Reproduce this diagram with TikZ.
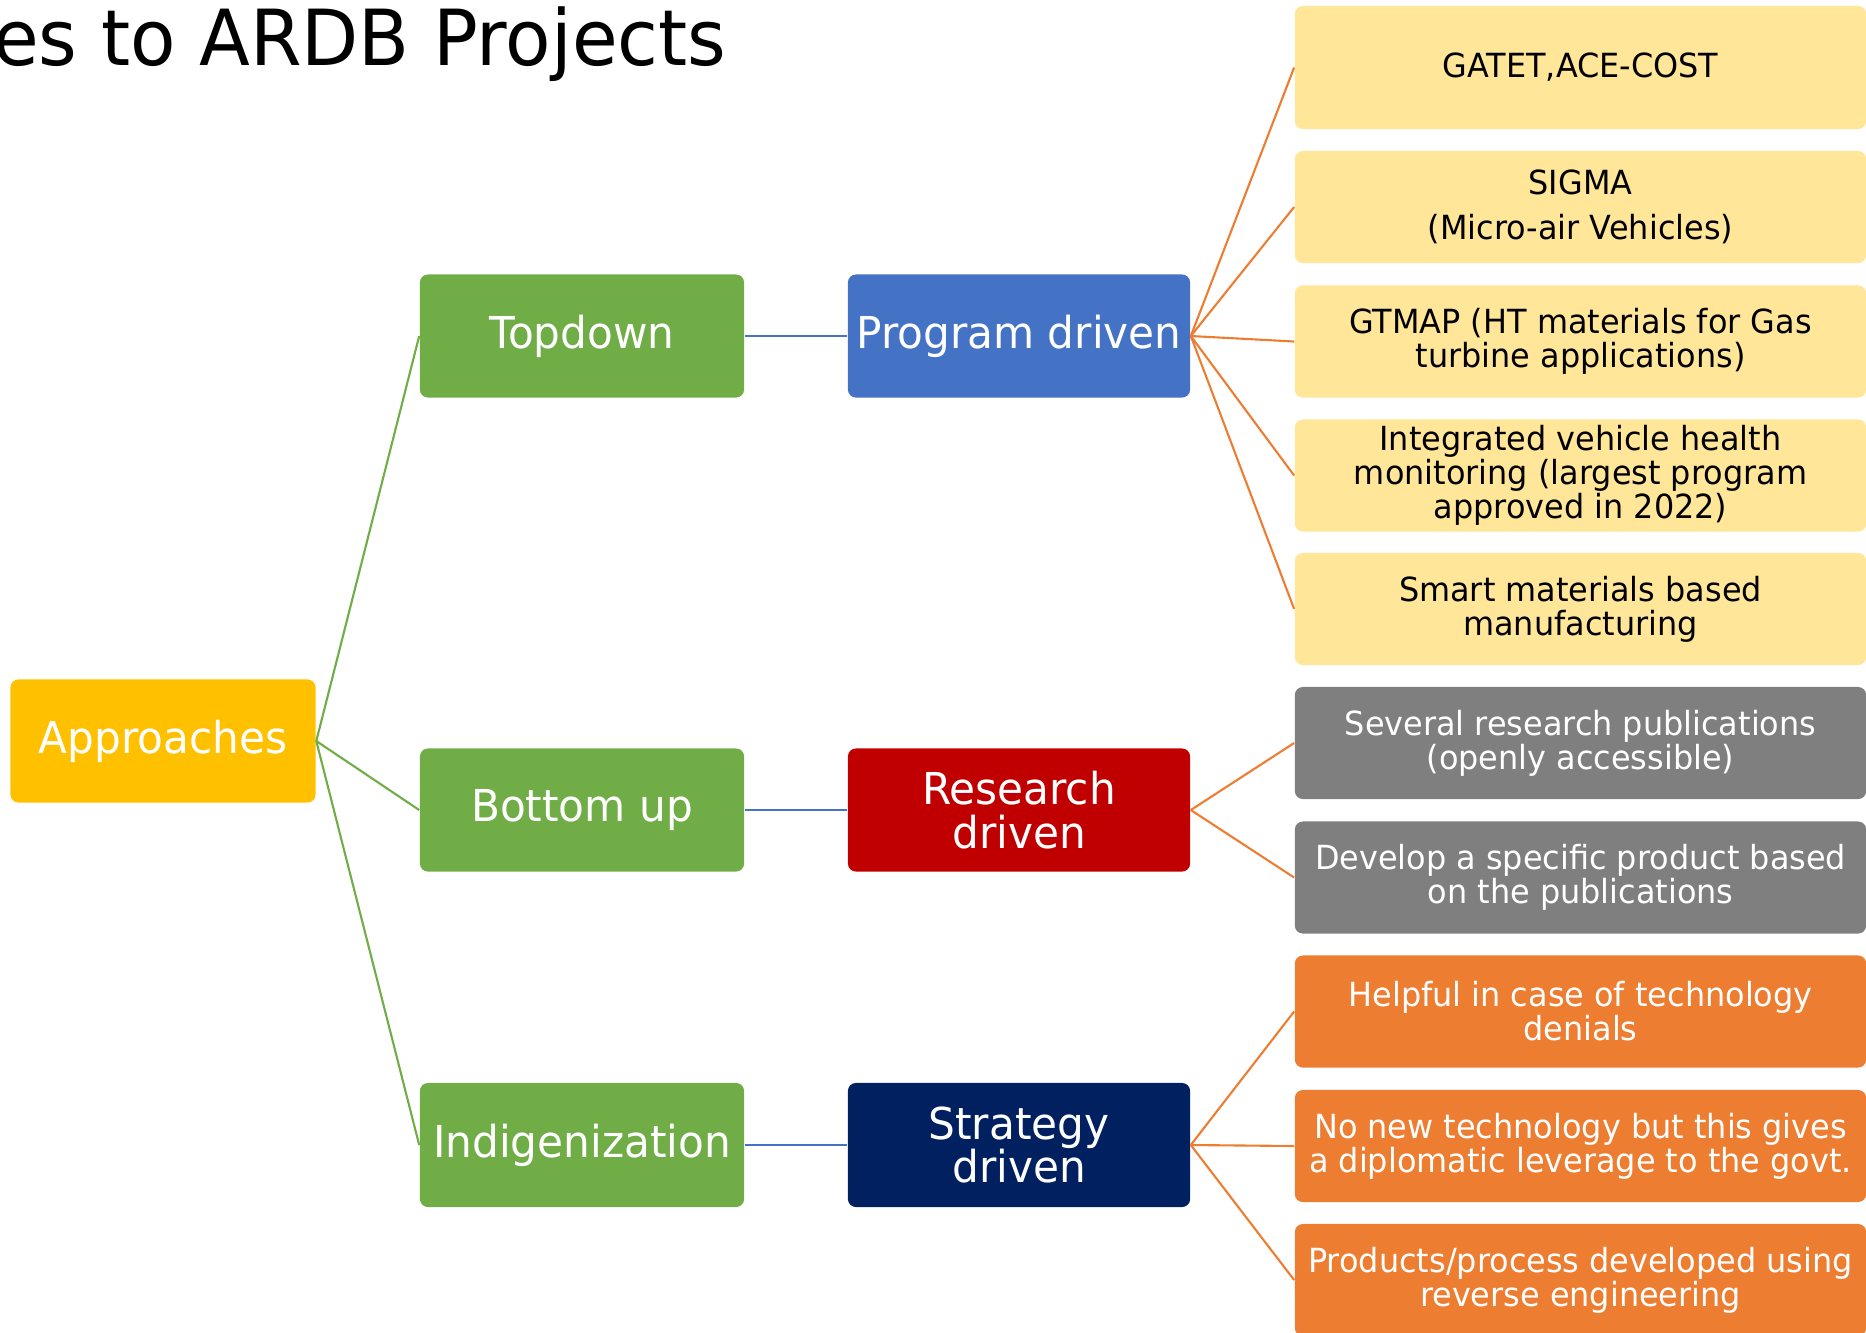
\documentclass[tikz,border=0pt]{standalone}
\usepackage{fontspec}
\setmainfont{DejaVu Sans}[FakeStretch=0.96]
\usetikzlibrary{positioning}

\definecolor{apprgold}{HTML}{FFC000}
\definecolor{stepgreen}{HTML}{70AD47}
\definecolor{progblue}{HTML}{4472C4}
\definecolor{resred}{HTML}{C00000}
\definecolor{stratnavy}{HTML}{002060}
\definecolor{leafyellow}{HTML}{FFE699}
\definecolor{leafgray}{HTML}{7F7F7F}
\definecolor{leaforange}{HTML}{ED7D31}

\begin{document}
\begin{tikzpicture}[
  x=0.01cm, y=-0.01cm,
  bigtext/.style = {font=\fontsize{12.5pt}{12.4pt}\selectfont, text=white},
  smalltext/.style = {font=\fontsize{9.45pt}{9.7pt}\selectfont},
  box/.style = {rounded corners=0.08cm, align=center, inner sep=0pt},
  rootbox/.style = {box, bigtext, fill=apprgold, minimum width=3.05cm, minimum height=1.23cm},
  stepbox/.style = {box, bigtext, fill=stepgreen, minimum width=3.24cm, minimum height=1.23cm},
  drivebox/.style = {box, bigtext, minimum width=3.42cm, minimum height=1.23cm},
  leafbox/.style = {box, smalltext, minimum width=5.71cm, minimum height=1.12cm},
  gline/.style = {draw=stepgreen, line width=0.6pt},
  bline/.style = {draw=progblue, line width=0.6pt},
  oline/.style = {draw=leaforange, line width=0.6pt}
  ]
	\useasboundingbox (0,0) rectangle (1866,1332);

	\node[anchor=base east, inner sep=0pt, font=\fontsize{22pt}{24pt}\selectfont] (title) at (727,65) {es to ARDB Projects};

	% left column
	\node[rootbox] (appr) at (163,741) {Approaches};
	\node[stepbox] (top) at (582,336) {Topdown};
	\node[stepbox] (bottom) at (582,810) {Bottom up};
	\node[stepbox, minimum height=1.24cm] (indig) at (582,1145) {Indigenization};

	% middle column
	\node[drivebox, fill=progblue] (prog) at (1019,336) {Program driven};
	\node[drivebox, fill=resred] (res) at (1019,810) {Research\\driven};
	\node[drivebox, fill=stratnavy, minimum height=1.24cm] (strat) at (1019,1145) {Strategy\\driven};

	% right column
	\node[leafbox, fill=leafyellow, minimum height=1.23cm] (p1) at (1580.5,67.5) {GATET,ACE-COST};
	\node[leafbox, fill=leafyellow] (p2) at (1580.5,207) {SIGMA\\[3.1pt](Micro-air Vehicles)};
	\node[leafbox, fill=leafyellow] (p3) at (1580.5,341.5) {GTMAP (HT materials for Gas\\turbine applications)};
	\node[leafbox, fill=leafyellow] (p4) at (1580.5,475.5) {Integrated vehicle health\\monitoring (largest program\\approved in 2022)};
	\node[leafbox, fill=leafyellow] (p5) at (1580.5,609) {Smart materials based\\manufacturing};
	\node[leafbox, fill=leafgray, text=white] (r1) at (1580.5,743) {Several research publications\\(openly accessible)};
	\node[leafbox, fill=leafgray, text=white] (r2) at (1580.5,877.5) {Develop a specific product based\\on the publications};
	\node[leafbox, fill=leaforange, text=white] (s1) at (1580.5,1011.5) {Helpful in case of technology\\denials};
	\node[leafbox, fill=leaforange, text=white] (s2) at (1580.5,1146) {No new technology but this gives\\a diplomatic leverage to the govt.};
	\node[leafbox, fill=leaforange, text=white] (s3) at (1580.5,1280) {Products/process developed using\\reverse engineering};

	% connectors
	\draw[gline] (appr.east) -- (top.west);
	\draw[gline] (appr.east) -- (bottom.west);
	\draw[gline] (appr.east) -- (indig.west);

	\draw[bline] (top.east) -- (prog.west);
	\draw[bline] (bottom.east) -- (res.west);
	\draw[bline] (indig.east) -- (strat.west);

	\draw[oline] (prog.east) -- (p1.west);
	\draw[oline] (prog.east) -- (p2.west);
	\draw[oline] (prog.east) -- (p3.west);
	\draw[oline] (prog.east) -- (p4.west);
	\draw[oline] (prog.east) -- (p5.west);
	\draw[oline] (res.east) -- (r1.west);
	\draw[oline] (res.east) -- (r2.west);
	\draw[oline] (strat.east) -- (s1.west);
	\draw[oline] (strat.east) -- (s2.west);
	\draw[oline] (strat.east) -- (s3.west);

\end{tikzpicture}
\end{document}
